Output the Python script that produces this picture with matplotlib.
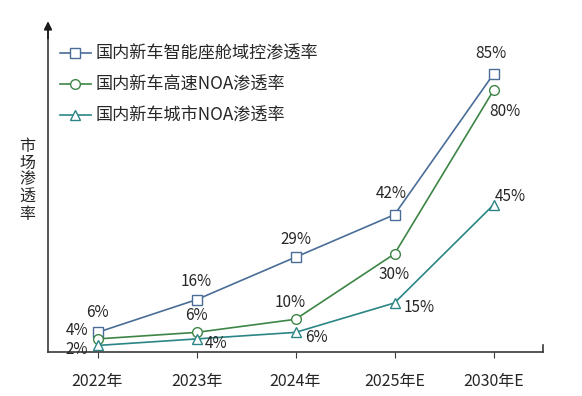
import matplotlib
matplotlib.use('Agg')
import matplotlib.pyplot as plt

plt.rcParams['font.family'] = ['Noto Sans CJK SC', 'DejaVu Sans']

# data
years = ['2022年', '2023年', '2024年', '2025年E', '2030年E']
cockpit = [6, 16, 29, 42, 85]
hw_noa = [4, 6, 10, 30, 80]
city_noa = [2, 4, 6, 15, 45]
names = ['国内新车智能座舱域控渗透率', '国内新车高速NOA渗透率', '国内新车城市NOA渗透率']

c_blue = '#4a6d98'
c_green = '#3d8546'
c_teal = '#2b8585'
txt = '#262626'

fig = plt.figure(figsize=(5.82, 3.96), dpi=100)
ax = fig.add_axes([48/582, 44/396, 495/582, 327/396])

x = list(range(len(years)))
ax.plot(x, cockpit, color=c_blue, lw=1.2, marker='s', ms=6.5, mfc='white', mec=c_blue, mew=1.0, label=names[0])
ax.plot(x, hw_noa, color=c_green, lw=1.2, marker='o', ms=7, mfc='white', mec=c_green, mew=1.0, label=names[1])
ax.plot(x, city_noa, color=c_teal, lw=1.2, marker='^', ms=7, mfc='white', mec=c_teal, mew=1.0, label=names[2])

ax.set_xlim(-0.5, 4.5)
ax.set_ylim(0, 100)

# data labels (offsets in points)
off_blue = [(0, 14), (0, 13), (0, 13), (-2, 15), (-2, 15)]
off_green = [(-15, 6), (0, 12), (-4, 12), (0, -15), (8, -15)]
off_teal = [(-15, -3), (14, -3), (15, -4), (18, -3), (12, 6)]
for vals, offs in [(cockpit, off_blue), (hw_noa, off_green), (city_noa, off_teal)]:
    for i, v in enumerate(vals):
        ax.annotate(f'{v}%', (i, v), xytext=offs[i], textcoords='offset points',
                    ha='center', va='center', fontsize=11, color=txt)

for s in ['top', 'right']:
    ax.spines[s].set_visible(False)
for s in ['left', 'bottom']:
    ax.spines[s].set_color('#3a3a3a')
    ax.spines[s].set_linewidth(1.2)
ax.set_xticks(x)
ax.set_xticklabels(years, fontsize=11.5, color=txt)
ax.tick_params(axis='x', direction='out', length=4, color='#3a3a3a', pad=11)
ax.set_yticks([])
ax.plot([1, 1], [0, 0.02], transform=ax.transAxes, color='#3a3a3a', lw=1.2, clip_on=False)

# arrow at the top of the y axis
ax.annotate('', xy=(0, 1.02), xycoords='axes fraction', xytext=(0, 0.95),
            arrowprops=dict(arrowstyle='-|>', color='#1a1a1a', lw=1.2, mutation_scale=12))

fig.text(27/582, 1 - 180/396, '市\n场\n渗\n透\n率', fontsize=11.5, color=txt,
         ha='center', va='center', linespacing=1.0)

leg = ax.legend(loc='upper left', bbox_to_anchor=(0.01, 0.96), frameon=False,
                fontsize=12.3, handlelength=1.8, handletextpad=0.3, labelspacing=0.75,
                borderaxespad=0)
for t in leg.get_texts():
    t.set_color(txt)

fig.savefig('out.png', dpi=100)
